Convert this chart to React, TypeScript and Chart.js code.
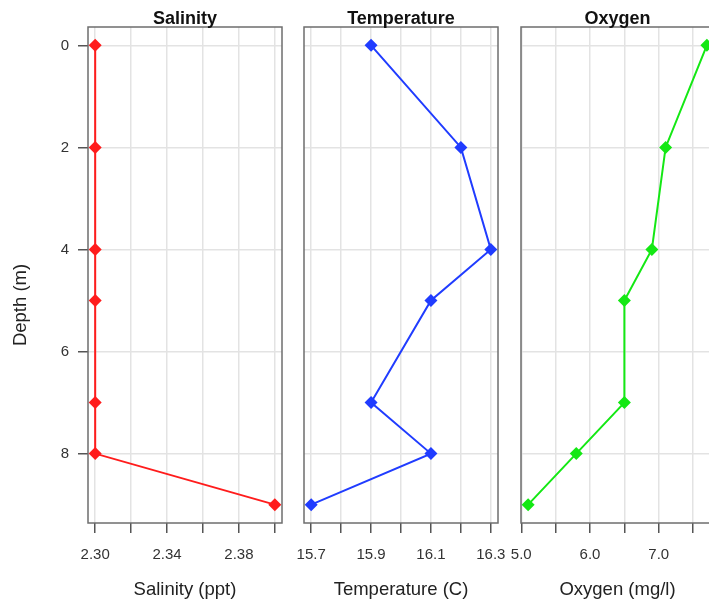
import React, { useEffect, useRef } from "react";
import { Chart, registerables } from "chart.js";

Chart.register(...registerables);

// ---- data ----
const depths = [0, 2, 4, 5, 7, 8, 9];
const salinity = [2.3, 2.3, 2.3, 2.3, 2.3, 2.3, 2.4];
const temperature = [15.9, 16.2, 16.3, 16.1, 15.9, 16.1, 15.7];
const oxygen = [7.7, 7.1, 6.9, 6.5, 6.5, 5.8, 5.1];

const depthTicks = [0, 2, 4, 6, 8];
const depthLabels = ["0", "2", "4", "6", "8"];
const salinityTicks = [2.3, 2.32, 2.34, 2.36, 2.38, 2.4];
const salinityLabels = ["2.30", "", "2.34", "", "2.38", ""];
const temperatureTicks = [15.7, 15.8, 15.9, 16.0, 16.1, 16.2, 16.3];
const temperatureLabels = ["15.7", "", "15.9", "", "16.1", "", "16.3"];
const oxygenTicks = [5.0, 5.5, 6.0, 6.5, 7.0, 7.5];
const oxygenLabels = ["5.0", "", "6.0", "", "7.0", ""];

const titles = ["Salinity", "Temperature", "Oxygen"];
const xTitles = ["Salinity (ppt)", "Temperature (C)", "Oxygen (mg/l)"];
const yTitle = "Depth (m)";

// ---- layout ----
const FONT = "'Liberation Sans', Arial, Helvetica, sans-serif";
const CANVAS_W = 730;
const CANVAS_H = 606;
const AREA_TOP = 27;
const AREA_BOTTOM = 523;
const Y_AXIS_W = 88;

type PanelSpec = {
  title: string;
  xTitle: string;
  values: number[];
  ticks: number[];
  labels: string[];
  color: string;
  left: number;
  right: number;
  showY: boolean;
};

function rRange(vals: number[]): [number, number] {
  const mn = Math.min(...vals);
  const mx = Math.max(...vals);
  const d = (mx - mn) * 0.04;
  return [mn - d, mx + d];
}

const panels: PanelSpec[] = [
  { title: titles[0], xTitle: xTitles[0], values: salinity, ticks: salinityTicks, labels: salinityLabels, color: "rgb(255,28,28)", left: 88, right: 282, showY: true },
  { title: titles[1], xTitle: xTitles[1], values: temperature, ticks: temperatureTicks, labels: temperatureLabels, color: "rgb(32,60,255)", left: 304, right: 498, showY: false },
  { title: titles[2], xTitle: xTitles[2], values: oxygen, ticks: oxygenTicks, labels: oxygenLabels, color: "rgb(20,232,20)", left: 521, right: 714, showY: false },
];

function Panel({ spec }: { spec: PanelSpec }) {
  const ref = useRef<HTMLCanvasElement | null>(null);
  useEffect(() => {
    if (!ref.current) return;
    const [xmin, xmax] = rRange(spec.values);
    const [ymin, ymax] = rRange(depths);
    const decor = {
      id: "decor" + spec.title,
      afterDatasetsDraw(chart: any) {
        const { ctx, chartArea } = chart;
        ctx.save();
        ctx.strokeStyle = "#6e6e6e";
        ctx.lineWidth = 1.5;
        ctx.strokeRect(chartArea.left, chartArea.top, chartArea.right - chartArea.left, chartArea.bottom - chartArea.top);
        ctx.fillStyle = "#111";
        ctx.font = `bold 18px ${FONT}`;
        ctx.textAlign = "center";
        ctx.textBaseline = "alphabetic";
        ctx.fillText(spec.title, (chartArea.left + chartArea.right) / 2, 24);
        if (spec.showY) {
          ctx.translate(21, 305);
          ctx.rotate(-Math.PI / 2);
          ctx.font = `18.5px ${FONT}`;
          ctx.fillStyle = "#222";
          ctx.textBaseline = "middle";
          ctx.fillText(yTitle, 0, 0);
        }
        ctx.restore();
      },
    };
    const chart = new Chart(ref.current, {
      type: "scatter",
      data: {
        datasets: [
          {
            data: depths.map((d, i) => ({ x: spec.values[i], y: d })),
            showLine: true,
            borderColor: spec.color,
            backgroundColor: spec.color,
            borderWidth: 2,
            pointStyle: "rectRot",
            pointRadius: 6.5,
            pointBorderWidth: 0,
            tension: 0,
          } as any,
        ],
      },
      options: {
        animation: false,
        responsive: false,
        maintainAspectRatio: false,
        layout: {
          padding: {
            left: spec.showY ? spec.left - Y_AXIS_W : spec.left,
            right: CANVAS_W - spec.right,
            top: AREA_TOP,
            bottom: 0,
          },
        },
        plugins: {
          legend: { display: false },
          tooltip: { enabled: false },
          title: { display: false },
        },
        scales: {
          x: {
            type: "linear",
            position: "bottom",
            min: xmin,
            max: xmax,
            afterBuildTicks: (s: any) => {
              s.ticks = spec.ticks.map((v) => ({ value: v }));
            },
            afterFit: (s: any) => {
              s.height = CANVAS_H - AREA_BOTTOM;
            },
            ticks: {
              autoSkip: false,
              maxRotation: 0,
              minRotation: 0,
              padding: 13,
              color: "#333",
              font: { family: FONT, size: 15 },
              callback: (_v: any, i: number) => spec.labels[i] ?? "",
            },
            grid: {
              color: "#e3e3e3",
              lineWidth: 1.5,
              tickColor: "#555",
              tickLength: 10,
              tickWidth: 1.5,
              drawTicks: true,
            },
            border: { display: false },
            title: {
              display: true,
              text: spec.xTitle,
              color: "#222",
              font: { family: FONT, size: 18.5 },
              padding: { top: 0, bottom: 5 },
            },
          },
          y: {
            type: "linear",
            position: "left",
            reverse: true,
            min: ymin,
            max: ymax,
            afterBuildTicks: (s: any) => {
              s.ticks = depthTicks.map((v) => ({ value: v }));
            },
            afterFit: (s: any) => {
              s.width = spec.showY ? Y_AXIS_W : 0;
            },
            ticks: {
              display: spec.showY,
              autoSkip: false,
              padding: 9,
              color: "#333",
              font: { family: FONT, size: 15 },
              callback: (_v: any, i: number) => depthLabels[i] ?? "",
            },
            grid: {
              color: "#e3e3e3",
              lineWidth: 1.5,
              tickColor: "#555",
              tickLength: 10,
              tickWidth: 1.5,
              drawTicks: spec.showY,
            },
            border: { display: false },
          },
        },
      } as any,
      plugins: [decor],
    });
    return () => chart.destroy();
  }, [spec]);
  return (
    <canvas
      ref={ref}
      width={CANVAS_W}
      height={CANVAS_H}
      style={{ position: "absolute", left: 0, top: 0, width: CANVAS_W, height: CANVAS_H }}
    />
  );
}

export default function App() {
  return (
    <div
      style={{
        position: "fixed",
        left: 0,
        top: 0,
        width: 709,
        height: 606,
        overflow: "hidden",
        background: "#fff",
      }}
    >
      {panels.map((p) => (
        <Panel key={p.title} spec={p} />
      ))}
    </div>
  );
}
